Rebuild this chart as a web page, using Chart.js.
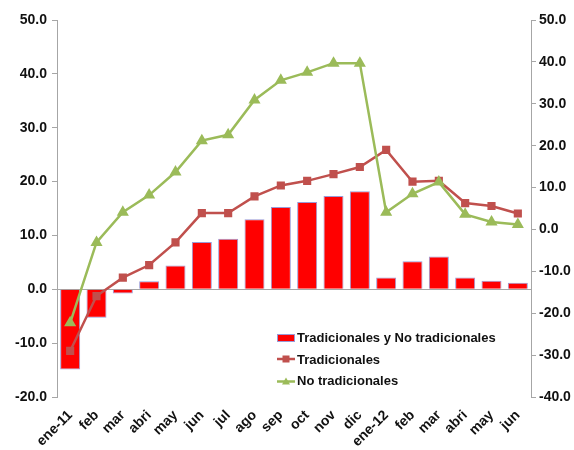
<!DOCTYPE html>
<html>
<head>
<meta charset="utf-8">
<script src="https://cdn.jsdelivr.net/npm/chart.js@4/dist/chart.umd.min.js"></script>
<style>
  html, body { margin: 0; padding: 0; background: #fff; }
  #wrap { position: relative; width: 574px; height: 450px; }
  #legend {
    position: absolute; left: 277px; top: 327px;
    font: bold 13px "Liberation Sans", Arial, sans-serif; color: #111;
  }
  #legend div { height: 21.5px; display: flex; align-items: center; }
  #legend svg { margin-right: 2px; }
</style>
</head>
<body>
<div id="wrap">
  <canvas id="chart" width="574" height="450"></canvas>
  <div id="legend"></div>
</div>
<script>
// Months, Jan 2011 - Jun 2012
const months = ['ene-11', 'feb', 'mar', 'abri', 'may', 'jun', 'jul', 'ago', 'sep', 'oct', 'nov', 'dic',
                'ene-12', 'feb', 'mar', 'abri', 'may', 'jun'];

// Left axis: total (bars)
const totalValues = [-14.9, -5.3, -0.8, 1.5, 4.4, 8.8, 9.4, 13.0, 15.3, 16.2, 17.3, 18.2,
                     2.2, 5.2, 6.1, 2.2, 1.6, 1.2];

// Right axis: lines
const tradicionales = [-29.0, -15.9, -11.5, -8.5, -3.1, 3.9, 3.9, 7.9, 10.5, 11.6, 13.2, 14.9,
                       19.0, 11.4, 11.6, 6.3, 5.6, 3.8];
const noTradicionales = [-22.3, -3.1, 4.1, 8.2, 13.7, 21.2, 22.6, 30.9, 35.6, 37.5, 39.7, 39.7,
                         4.1, 8.5, 11.3, 3.6, 1.8, 1.2];

const leftTicks = { min: -20, max: 50, step: 10 };
const rightTicks = { min: -40, max: 50, step: 10 };

const FONT = { family: '"Liberation Sans", Arial, sans-serif', size: 14, weight: 'bold' };
const AXIS_GRAY = '#a6a6a6';

const datasets = [
  {
    type: 'line', label: 'No tradicionales', data: noTradicionales, yAxisID: 'yR', order: 1,
    borderColor: '#9BBB59', backgroundColor: '#9BBB59', borderWidth: 2.5,
    pointStyle: 'triangle', pointRadius: 4.5, tension: 0
  },
  {
    type: 'line', label: 'Tradicionales', data: tradicionales, yAxisID: 'yR', order: 2,
    borderColor: '#C0504D', backgroundColor: '#C0504D', borderWidth: 2.5,
    pointStyle: 'rect', pointRadius: 4, tension: 0
  },
  {
    type: 'bar', label: 'Tradicionales y No tradicionales', data: totalValues, yAxisID: 'yL', order: 3,
    backgroundColor: '#FF0000', borderColor: '#9a9ad6', borderWidth: 1,
    categoryPercentage: 1, barPercentage: 0.76
  }
];

new Chart(document.getElementById('chart'), {
  data: { labels: months, datasets: datasets },
  options: {
    responsive: false,
    animation: false,
    layout: { padding: { top: 20, left: 0, right: 0 } },
    plugins: { legend: { display: false }, tooltip: { enabled: false } },
    scales: {
      x: {
        grid: { display: false },
        border: { display: false },
        ticks: { color: '#111', font: FONT, maxRotation: 45, minRotation: 45, padding: 2,
                 autoSkip: false },
        afterFit: (s) => { s.height = 53; }
      },
      yL: {
        position: 'left', min: leftTicks.min, max: leftTicks.max,
        ticks: { stepSize: leftTicks.step, color: '#111', font: FONT, padding: 5,
                 callback: (v) => v.toFixed(1) },
        grid: { color: (c) => c.tick && c.tick.value === 0 ? AXIS_GRAY : 'transparent',
                tickColor: AXIS_GRAY, tickLength: 5, lineWidth: 1 },
        border: { color: AXIS_GRAY },
        afterFit: (s) => { s.width = 57; }
      },
      yR: {
        position: 'right', min: rightTicks.min, max: rightTicks.max,
        ticks: { stepSize: rightTicks.step, color: '#111', font: FONT, padding: 3,
                 callback: (v) => v.toFixed(1) },
        grid: { drawOnChartArea: false, tickColor: AXIS_GRAY, tickLength: 5 },
        border: { color: AXIS_GRAY },
        afterFit: (s) => { s.width = 43; }
      }
    }
  }
});

// legend built from the datasets, bars first
const legendEl = document.getElementById('legend');
[datasets[2], datasets[1], datasets[0]].forEach((ds) => {
  let icon;
  if (ds.type === 'bar') {
    icon = `<svg width="18" height="10"><rect x="0.5" y="1.5" width="17" height="7" fill="${ds.backgroundColor}" stroke="${ds.borderColor}"/></svg>`;
  } else if (ds.pointStyle === 'rect') {
    icon = `<svg width="18" height="10"><line x1="0" y1="5" x2="18" y2="5" stroke="${ds.borderColor}" stroke-width="2.5"/><rect x="5.5" y="1.5" width="7" height="7" fill="${ds.borderColor}"/></svg>`;
  } else {
    icon = `<svg width="18" height="10"><line x1="0" y1="5.5" x2="18" y2="5.5" stroke="${ds.borderColor}" stroke-width="2.5"/><polygon points="9,1.5 13,8.5 5,8.5" fill="${ds.borderColor}"/></svg>`;
  }
  const row = document.createElement('div');
  row.innerHTML = icon + '<span>' + ds.label + '</span>';
  legendEl.appendChild(row);
});
</script>
</body>
</html>
